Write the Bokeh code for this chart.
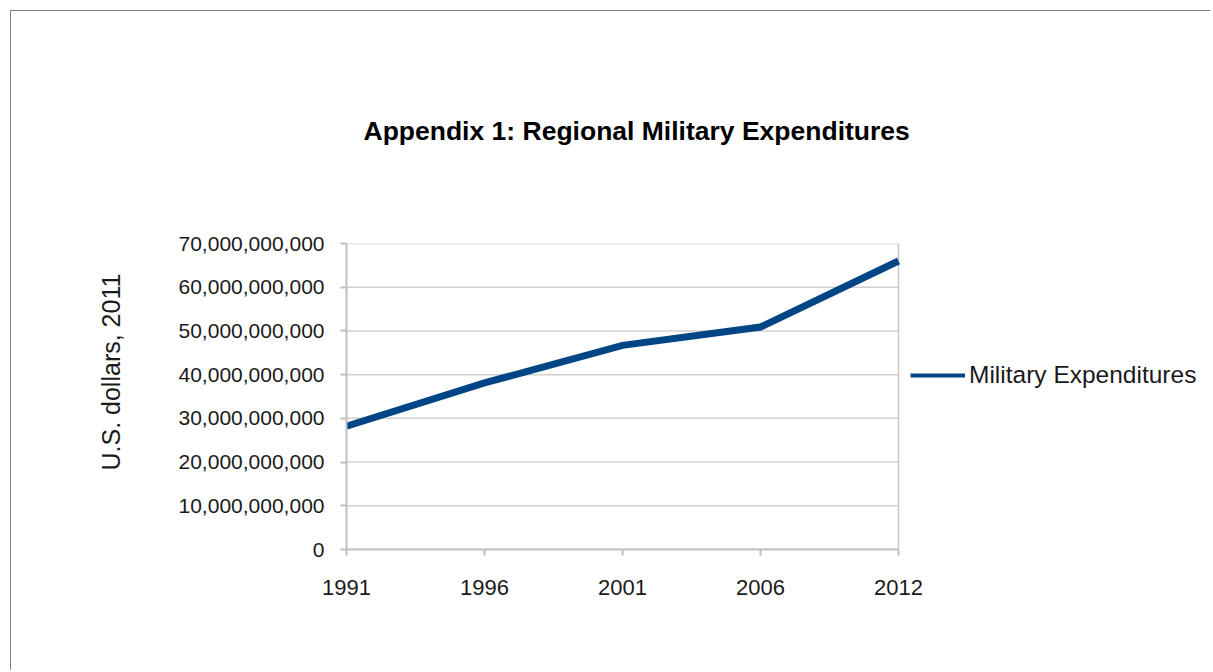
from bokeh.plotting import figure
from bokeh.models import Range1d, FixedTicker, Legend, LegendItem, NumeralTickFormatter, Title
from bokeh.embed import file_html
from bokeh.resources import INLINE

# ---- data ----
years = ["1991", "1996", "2001", "2006", "2012"]
expenditures = [28.2e9, 38.1e9, 46.7e9, 50.9e9, 66.0e9]
y_ticks = [0, 10e9, 20e9, 30e9, 40e9, 50e9, 60e9, 70e9]
series_name = "Military Expenditures"
title_text = "Appendix 1: Regional Military Expenditures"
y_title = "U.S. dollars,  2011"

# ---- layout (pixels, canvas coordinates) ----
CANVAS_W, CANVAS_H = 1200, 660
FRAME_L, DATA_R, FRAME_T, FRAME_B = 335, 887, 232, 538

FONT = "Liberation Sans"
LINE_COLOR = "#004586"
AXIS_GRAY = "#bfbfbf"
GRID_GRAY = "#d0d0d0"

x = list(range(len(years)))
x_last = len(years) - 1
# the frame reaches to the right edge so that the legend is not clipped
x_end = x_last * (CANVAS_W - FRAME_L) / (DATA_R - FRAME_L)

p = figure(
    width=CANVAS_W, height=CANVAS_H,
    output_backend="svg", toolbar_location=None,
    x_range=Range1d(0, x_end), y_range=Range1d(y_ticks[0], y_ticks[-1]),
    min_border_left=FRAME_L, min_border_right=0,
    min_border_top=FRAME_T, min_border_bottom=CANVAS_H - FRAME_B,
    styles={"margin-left": "10px", "margin-top": "10px",
            "border-left": "1px solid #808080", "border-top": "1px solid #808080"},
)
p.title = Title(text=title_text, align="left", offset=17, standoff=196,
                text_font=FONT, text_font_size="26.5px", text_font_style="bold",
                text_color="black")
p.background_fill_color = "white"
p.border_fill_color = "white"
p.outline_line_color = None

# grid lines limited to the data area, plus right edge of the plot area
p.xgrid.visible = False
p.ygrid.visible = False
p.segment(x0=[0] * len(y_ticks), x1=[x_last] * len(y_ticks), y0=y_ticks, y1=y_ticks,
          line_color=GRID_GRAY, line_width=1.5)
p.segment(x0=[x_last], x1=[x_last], y0=[y_ticks[0]], y1=[y_ticks[-1]],
          line_color="#c8c8c8", line_width=1.5)

# x axis
p.xaxis.ticker = FixedTicker(ticks=x)
p.xaxis.bounds = (0, x_last)
p.xaxis.major_label_overrides = {i: yr for i, yr in enumerate(years)}
p.xaxis.major_label_standoff = 24
p.xaxis.major_label_text_font_size = "22px"
# y axis
p.yaxis.ticker = FixedTicker(ticks=y_ticks)
p.yaxis.formatter = NumeralTickFormatter(format="0,0")
p.yaxis.major_label_standoff = 16
p.yaxis.major_label_text_font_size = "21px"

for ax in (p.xaxis[0], p.yaxis[0]):
    ax.axis_line_color = AXIS_GRAY
    ax.axis_line_width = 2
    ax.major_tick_line_color = AXIS_GRAY
    ax.major_tick_line_width = 2
    ax.major_tick_in = 0
    ax.major_tick_out = 6
    ax.minor_tick_line_color = None
    ax.major_label_text_font = FONT
    ax.major_label_text_color = "#1a1a1a"

# y axis title (as a side title on the left)
p.add_layout(Title(text=y_title, align="left", offset=79, standoff=102,
                   text_font=FONT, text_font_size="25px", text_font_style="normal",
                   text_color="#1a1a1a"), "left")

# series
p.line(x, expenditures, line_color=LINE_COLOR, line_width=7, line_join="miter")
legend_r = p.line(x, expenditures, line_color=LINE_COLOR, line_width=4, visible=False)

legend = Legend(
    items=[LegendItem(label=series_name, renderers=[legend_r])],
    location=(564, 160), padding=8, spacing=0, margin=0,
    glyph_width=55, glyph_height=20, label_standoff=4,
    label_text_font=FONT, label_text_font_size="24.5px", label_text_color="#1a1a1a",
    border_line_color=None, background_fill_color="white", background_fill_alpha=1.0,
)
p.add_layout(legend, "center")

open("out.html", "w").write(file_html(p, INLINE))
